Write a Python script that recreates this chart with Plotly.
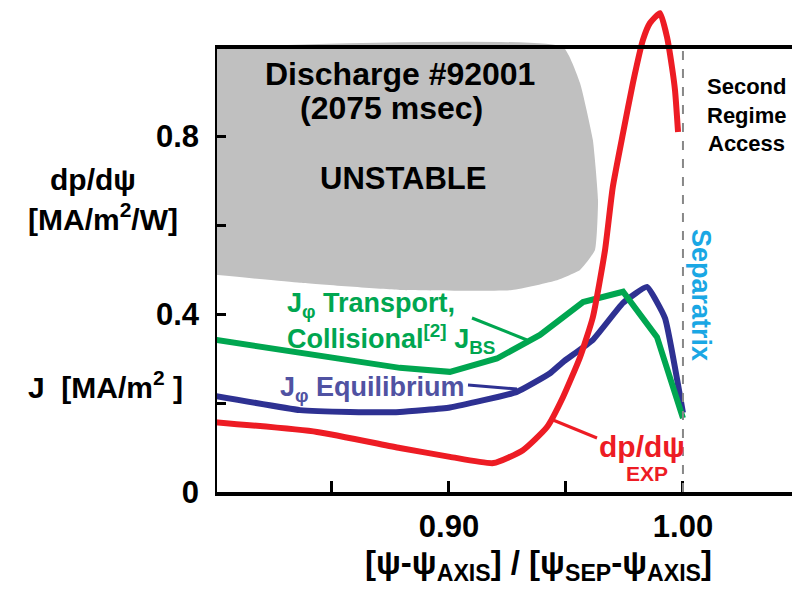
import plotly.graph_objects as go

# ---------------- data ----------------
red_x = [0.800, 0.8436, 0.879, 0.9004, 0.919, 0.9316, 0.9419, 0.9487, 0.956, 0.9615,
         0.9667, 0.970, 0.9744, 0.9786, 0.9829, 0.9859, 0.9902, 0.9932, 0.9953, 0.9966, 0.9979]
red_y = [0.157, 0.135, 0.099, 0.079, 0.065, 0.094, 0.146, 0.213, 0.303, 0.393,
         0.544, 0.685, 0.807, 0.919, 1.016, 1.054, 1.076, 1.022, 0.955, 0.903, 0.809]

green_x = [0.800, 0.8363, 0.879, 0.9004, 0.9205, 0.9389, 0.9573, 0.9744, 0.9889, 1.000]
green_y = [0.342, 0.312, 0.279, 0.270, 0.300, 0.353, 0.427, 0.450, 0.348, 0.166]

blue_x = [0.800, 0.8363, 0.8577, 0.879, 0.9004, 0.929, 0.9432, 0.9487, 0.9615, 0.9744, 0.9846, 0.9923, 1.000]
blue_y = [0.216, 0.184, 0.180, 0.180, 0.190, 0.225, 0.267, 0.292, 0.342, 0.425, 0.461, 0.391, 0.178]

unstable_x = [0.800, 0.9487, 0.956, 0.9615, 0.9637, 0.9624, 0.956, 0.9462, 0.927, 0.879, 0.8363, 0.800]
unstable_y = [1.000, 1.000, 0.919, 0.791, 0.656, 0.544, 0.499, 0.476, 0.454, 0.454, 0.470, 0.488]

x_tickvals = [0.90, 1.00]
x_ticktext = ["0.90", "1.00"]
x_minor_step = 0.05
y_tickvals = [0.0, 0.4, 0.8]
y_ticktext = ["0", "0.4", "0.8"]
y_minor_step = 0.2

separatrix_x = 1.0
x_range = [0.8, 1.0466]
y_range = [0.0, 1.09]
y_frame_top = 1.0

RED = "#ED1C24"
GREEN = "#00A650"
BLUE = "#2E3192"
BLUE_TEXT = "#5052A2"
CYAN = "#1AA7E4"
FONT = "Liberation Sans, Arial, sans-serif"

# plot area in pixels
L, R, T, B = 215, 0, 7, 97
W, H = 792, 589
PW = W - L - R
PH = H - T - B


def px(xp):
    return (xp - L) / PW


def py(yp):
    return (H - B - yp) / PH


def X(xp):
    return x_range[0] + (xp - L) * (x_range[1] - x_range[0]) / PW


def Y(yp):
    return y_range[0] + (H - B - yp) * (y_range[1] - y_range[0]) / PH


fig = go.Figure()

fig.add_trace(go.Scatter(x=unstable_x, y=unstable_y, fill="toself", mode="lines",
                         line=dict(width=0, color="#C0C0C0", shape="spline", smoothing=0.4),
                         fillcolor="#C0C0C0", hoverinfo="skip", showlegend=False))
fig.add_trace(go.Scatter(x=blue_x, y=blue_y, mode="lines",
                         line=dict(color=BLUE, width=6, shape="spline", smoothing=0.35),
                         showlegend=False))
fig.add_trace(go.Scatter(x=green_x, y=green_y, mode="lines",
                         line=dict(color=GREEN, width=6), showlegend=False))
fig.add_trace(go.Scatter(x=red_x, y=red_y, mode="lines",
                         line=dict(color=RED, width=6, shape="spline", smoothing=0.5),
                         showlegend=False))

shapes = [
    dict(type="line", xref="x", yref="y", x0=separatrix_x, x1=separatrix_x, y0=0, y1=y_frame_top,
         line=dict(color="#888888", width=2, dash="dash")),
    dict(type="line", xref="x", yref="y", x0=x_range[0], x1=x_range[0], y0=0, y1=y_frame_top,
         line=dict(color="black", width=4)),
    dict(type="line", xref="x", yref="y", x0=x_range[0], x1=x_range[1], y0=y_frame_top, y1=y_frame_top,
         line=dict(color="black", width=4)),
    # leader lines
    dict(type="line", xref="x", yref="y", x0=X(472), y0=Y(318), x1=X(527), y1=Y(340),
         line=dict(color=GREEN, width=3)),
    dict(type="line", xref="x", yref="y", x0=X(468), y0=Y(385), x1=X(517), y1=Y(389),
         line=dict(color=BLUE, width=3)),
    dict(type="line", xref="x", yref="y", x0=X(553), y0=Y(420), x1=X(597), y1=Y(438),
         line=dict(color=RED, width=3)),
]


def ann(text, xp, yp, size, color="black", xanchor="center", yanchor="middle", angle=0):
    return dict(text=text, xref="paper", yref="paper", x=px(xp), y=py(yp),
                xanchor=xanchor, yanchor=yanchor, showarrow=False, textangle=angle,
                font=dict(family=FONT, size=size, color=color, weight="bold"))


annotations = [
    ann("Discharge #92001", 400, 74, 32),
    ann("(2075 msec)", 391, 108, 32),
    ann("UNSTABLE", 403, 179, 31),
    ann("Second", 746, 87, 22),
    ann("Regime", 746, 116, 22),
    ann("Access", 746, 143, 22),
    ann("Separatrix", 701, 295, 27, CYAN, angle=90),
    ann("J<sub>φ</sub> Transport,", 285, 305, 27, GREEN, xanchor="left"),
    ann("Collisional<sup>[2]</sup> J<sub>BS</sub>", 285, 339, 27, GREEN, xanchor="left"),
    ann("J<sub>φ</sub> Equilibrium", 278, 389, 27, BLUE_TEXT, xanchor="left"),
    ann("dp/dψ", 687, 446, 30, RED, xanchor="right"),
    ann("EXP", 647, 473, 21, RED),
    ann("dp/dψ", 93, 180, 30),
    ann("[MA/m<sup>2</sup>/W]", 103, 217, 30),
    ann("J  [MA/m<sup>2</sup> ]", 105, 385, 30),
    ann("[ψ-ψ<sub>AXIS</sub>] / [ψ<sub>SEP</sub>-ψ<sub>AXIS</sub>]", 538, 565, 33),
]

tick_font = dict(family=FONT, size=31, color="black", weight="bold")

fig.update_layout(
    width=W, height=H,
    margin=dict(l=L, r=R, t=T, b=B, pad=0),
    paper_bgcolor="white", plot_bgcolor="white",
    shapes=shapes, annotations=annotations,
    showlegend=False,
    xaxis=dict(range=x_range, showgrid=False, zeroline=False,
               showline=True, linecolor="black", linewidth=4,
               tickmode="array", tickvals=x_tickvals, ticktext=x_ticktext,
               ticks="inside", ticklen=11, tickwidth=3, tickcolor="black",
               ticklabelstandoff=4, tickfont=tick_font,
               minor=dict(dtick=x_minor_step, tick0=0.8, ticks="inside", ticklen=11,
                          tickwidth=3, tickcolor="black", showgrid=False)),
    yaxis=dict(range=y_range, showgrid=False, zeroline=False, showline=False,
               tickmode="array", tickvals=y_tickvals, ticktext=y_ticktext,
               ticks="inside", ticklen=11, tickwidth=3, tickcolor="black",
               ticklabelstandoff=15, tickfont=tick_font,
               minor=dict(dtick=y_minor_step, tick0=0, ticks="inside", ticklen=11,
                          tickwidth=3, tickcolor="black", showgrid=False)),
)

fig.write_html("out.html")
